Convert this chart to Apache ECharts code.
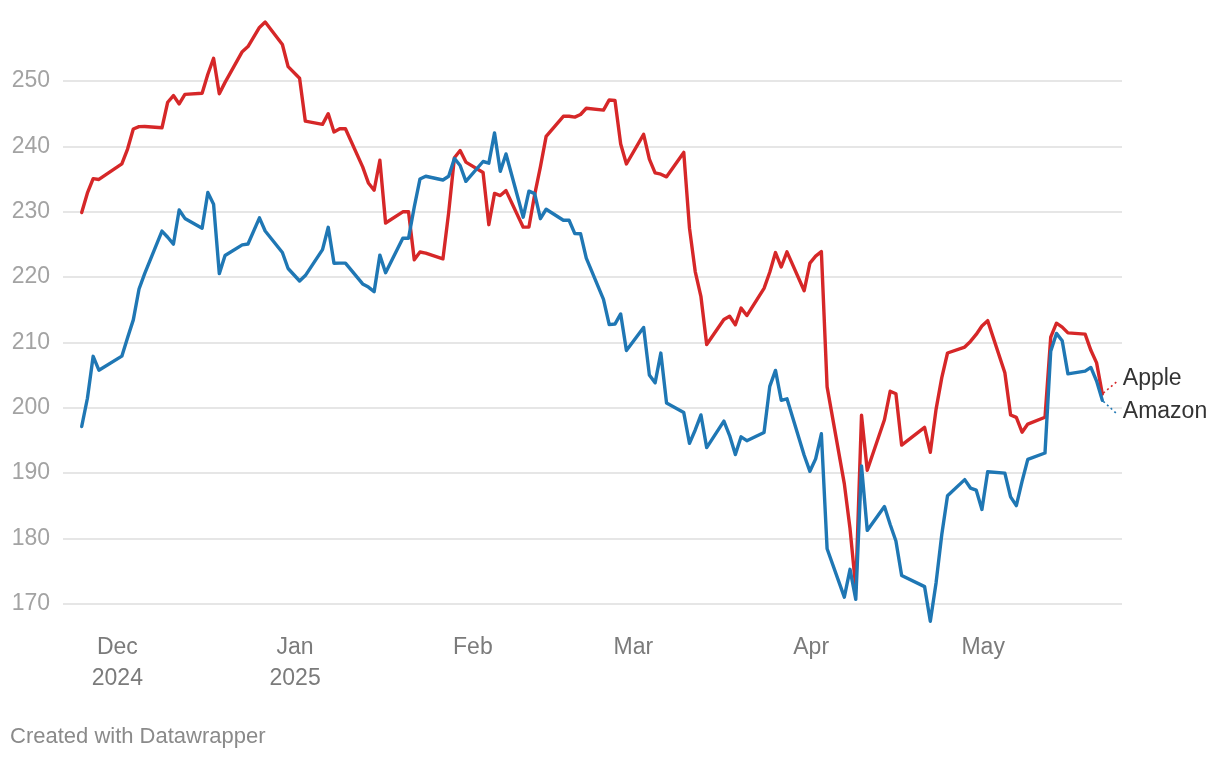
<!DOCTYPE html>
<html>
<head>
<meta charset="utf-8">
<script src="https://cdn.jsdelivr.net/npm/echarts@6/dist/echarts.min.js"></script>
<style>
  html, body { margin: 0; padding: 0; background: #ffffff; }
  #chart { width: 1220px; height: 760px; }
</style>
</head>
<body>
<div id="chart"></div>
<script>
// ---- Data (plotted dates as they appear in the chart) ----
const dates = [
  '2024-11-24','2024-11-25','2024-11-26','2024-11-27',
  '2024-12-01','2024-12-02','2024-12-03','2024-12-04','2024-12-05',
  '2024-12-08','2024-12-09','2024-12-10','2024-12-11','2024-12-12',
  '2024-12-15','2024-12-16','2024-12-17','2024-12-18','2024-12-19',
  '2024-12-22','2024-12-23','2024-12-25','2024-12-26',
  '2024-12-29','2024-12-30','2025-01-01','2025-01-02',
  '2025-01-05','2025-01-06','2025-01-07','2025-01-08','2025-01-09',
  '2025-01-12','2025-01-13','2025-01-14','2025-01-15','2025-01-16',
  '2025-01-19','2025-01-20','2025-01-21','2025-01-22','2025-01-23',
  '2025-01-26','2025-01-27','2025-01-28','2025-01-29','2025-01-30',
  '2025-02-02','2025-02-03','2025-02-04','2025-02-05','2025-02-06',
  '2025-02-09','2025-02-10','2025-02-11','2025-02-12','2025-02-13',
  '2025-02-16','2025-02-17','2025-02-18','2025-02-19','2025-02-20',
  '2025-02-23','2025-02-24','2025-02-25','2025-02-26','2025-02-27',
  '2025-03-02','2025-03-03','2025-03-04','2025-03-05','2025-03-06',
  '2025-03-09','2025-03-10','2025-03-11','2025-03-12','2025-03-13',
  '2025-03-16','2025-03-17','2025-03-18','2025-03-19','2025-03-20',
  '2025-03-23','2025-03-24','2025-03-25','2025-03-26','2025-03-27',
  '2025-03-30','2025-03-31','2025-04-01','2025-04-02','2025-04-03',
  '2025-04-06','2025-04-07','2025-04-08','2025-04-09','2025-04-10',
  '2025-04-13','2025-04-14','2025-04-15','2025-04-16',
  '2025-04-20','2025-04-21','2025-04-22','2025-04-23','2025-04-24',
  '2025-04-27','2025-04-28','2025-04-29','2025-04-30','2025-05-01',
  '2025-05-04','2025-05-05','2025-05-06','2025-05-07','2025-05-08',
  '2025-05-11','2025-05-12','2025-05-13','2025-05-14','2025-05-15',
  '2025-05-18','2025-05-19','2025-05-20','2025-05-21'
];

const apple = [
  229.87,232.87,235.06,234.93,
  237.33,239.59,242.65,243.01,243.04,
  242.84,246.75,247.77,246.49,247.96,
  248.13,251.04,253.48,248.05,249.79,
  254.49,255.27,258.20,259.02,
  255.59,252.20,250.42,243.85,
  243.36,245.00,242.21,242.70,242.70,
  236.85,234.40,233.28,237.87,228.26,
  229.98,229.98,222.64,223.83,223.66,
  222.78,229.86,238.26,239.36,237.59,
  236.00,228.01,232.80,232.47,233.22,
  227.63,227.65,232.62,236.87,241.53,
  244.60,244.60,244.47,244.87,245.83,
  245.55,247.10,247.04,240.36,237.30,
  241.84,238.03,235.93,235.74,235.33,
  239.07,227.48,220.84,216.98,209.68,
  213.49,214.00,212.69,215.24,214.10,
  218.27,220.73,223.75,221.53,223.85,
  217.90,222.13,223.19,223.89,203.19,
  188.38,181.46,172.42,198.85,190.42,
  198.15,202.52,202.14,194.27,
  196.98,193.16,199.74,204.60,208.37,
  209.28,210.14,211.21,212.50,213.32,
  205.35,198.89,198.51,196.25,197.49,
  198.53,210.79,212.93,212.33,211.45,
  211.26,208.78,206.86,202.09
];

const amazon = [
  197.12,201.45,207.86,205.74,
  207.89,210.71,213.44,218.16,220.55,
  227.03,226.09,225.04,230.26,228.97,
  227.46,232.93,231.15,220.52,223.29,
  224.92,225.06,229.05,227.05,
  223.75,221.30,219.39,220.22,
  224.19,227.61,222.11,222.13,222.13,
  218.94,218.46,217.76,223.35,220.66,
  225.94,225.94,230.71,235.01,235.42,
  234.85,235.42,238.15,237.07,234.64,
  237.68,237.42,242.06,236.17,238.83,
  229.15,233.14,232.76,228.93,230.37,
  228.68,228.68,226.65,226.63,222.88,
  216.58,212.71,212.80,214.35,208.74,
  212.28,205.02,203.80,208.36,200.70,
  199.25,194.54,196.59,198.89,193.89,
  197.95,195.74,192.82,195.54,194.95,
  196.21,203.26,205.71,201.13,201.36,
  192.72,190.26,192.17,196.01,178.41,
  171.00,175.26,170.66,191.10,181.22,
  184.87,182.12,179.59,174.33,
  172.61,167.32,173.18,180.60,186.54,
  188.99,187.70,187.39,184.42,190.20,
  189.98,186.35,185.01,188.71,192.08,
  193.06,208.64,211.37,210.25,205.17,
  205.59,206.16,204.07,201.12
];

const seriesNames = ['Apple', 'Amazon'];
const tickDates = ['2024-12-01','2025-01-01','2025-02-01','2025-03-01','2025-04-01','2025-05-01'];
const tickLabels = ['Dec\n2024','Jan\n2025','Feb','Mar','Apr','May'];
const yTicks = [170, 180, 190, 200, 210, 220, 230, 240, 250];

// ---- Chart ----
const DAY = 86400000;
const SHIFT = 0.78 * DAY;
function ts(s) { const p = s.split('-').map(Number); return Date.UTC(p[0], p[1] - 1, p[2]); }

const xMin = ts(dates[0]) + SHIFT - 3.26 * DAY;
const xMax = xMin + 184.69 * DAY;
const tickTs = tickDates.map(ts);

const appleData = dates.map((d, i) => [ts(d) + SHIFT, apple[i]]);
const amazonData = dates.map((d, i) => [ts(d) + SHIFT, amazon[i]]);

const FONT = '"Liberation Sans", Arial, Helvetica, sans-serif';
const RED = '#d62728';
const BLUE = '#1f77b4';

const chart = echarts.init(document.getElementById('chart'), null, { renderer: 'canvas' });

chart.setOption({
  animation: false,
  backgroundColor: '#ffffff',
  grid: { left: 63, right: 98, top: 81, bottom: 156.3, containLabel: false },
  xAxis: {
    type: 'value',
    min: xMin,
    max: xMax,
    axisLine: { show: false },
    axisTick: { show: false },
    splitLine: { show: false },
    axisLabel: {
      customValues: tickTs,
      margin: 28,
      fontFamily: FONT,
      fontSize: 23,
      lineHeight: 31,
      color: '#7b7b7b',
      align: 'center',
      formatter: function (v) {
        for (let i = 0; i < tickTs.length; i++) {
          if (Math.abs(tickTs[i] - v) < DAY / 2) return tickLabels[i];
        }
        return '';
      }
    }
  },
  yAxis: {
    type: 'value',
    min: yTicks[0],
    max: yTicks[yTicks.length - 1],
    interval: 10,
    axisLine: { show: false },
    axisTick: { show: false },
    axisLabel: {
      margin: 13,
      fontFamily: FONT,
      fontSize: 23,
      color: '#a3a3a3'
    },
    splitLine: { show: true, lineStyle: { color: '#e6e6e6', width: 2 } }
  },
  series: [
    {
      name: seriesNames[0],
      type: 'line',
      data: appleData,
      showSymbol: false,
      clip: false,
      lineStyle: { color: RED, width: 3.4, join: 'round', cap: 'round' },
      itemStyle: { color: RED },
      z: 2
    },
    {
      name: seriesNames[1],
      type: 'line',
      data: amazonData,
      showSymbol: false,
      clip: false,
      lineStyle: { color: BLUE, width: 3.4, join: 'round', cap: 'round' },
      itemStyle: { color: BLUE },
      z: 3
    }
  ]
});

// End labels with dotted connectors, anchored to the last data point via the chart's scales
const last = dates.length - 1;
const pA = chart.convertToPixel({ seriesIndex: 0 }, appleData[last]);
const pB = chart.convertToPixel({ seriesIndex: 1 }, amazonData[last]);

chart.setOption({
  graphic: [
    {
      type: 'line', silent: true, z: 10,
      shape: { x1: pA[0] + 1, y1: pA[1] - 1, x2: pA[0] + 14, y2: pA[1] - 12 },
      style: { stroke: RED, lineWidth: 1.6, lineDash: [2, 3] }
    },
    {
      type: 'line', silent: true, z: 10,
      shape: { x1: pB[0] + 1, y1: pB[1] + 1, x2: pB[0] + 14, y2: pB[1] + 13 },
      style: { stroke: BLUE, lineWidth: 1.6, lineDash: [2, 3] }
    },
    {
      type: 'text', silent: true, z: 10,
      x: pA[0] + 20.5, y: pA[1] - 15.7,
      style: { text: seriesNames[0], fill: '#333333', font: '23px ' + FONT, textAlign: 'left', textVerticalAlign: 'middle' }
    },
    {
      type: 'text', silent: true, z: 10,
      x: pB[0] + 20.5, y: pB[1] + 11.5,
      style: { text: seriesNames[1], fill: '#333333', font: '23px ' + FONT, textAlign: 'left', textVerticalAlign: 'middle' }
    },
    {
      type: 'text', silent: true, z: 10,
      x: 10, y: 737,
      style: { text: 'Created with Datawrapper', fill: '#8a8a8a', font: '22px ' + FONT, textAlign: 'left', textVerticalAlign: 'middle' }
    }
  ]
});
</script>
</body>
</html>
